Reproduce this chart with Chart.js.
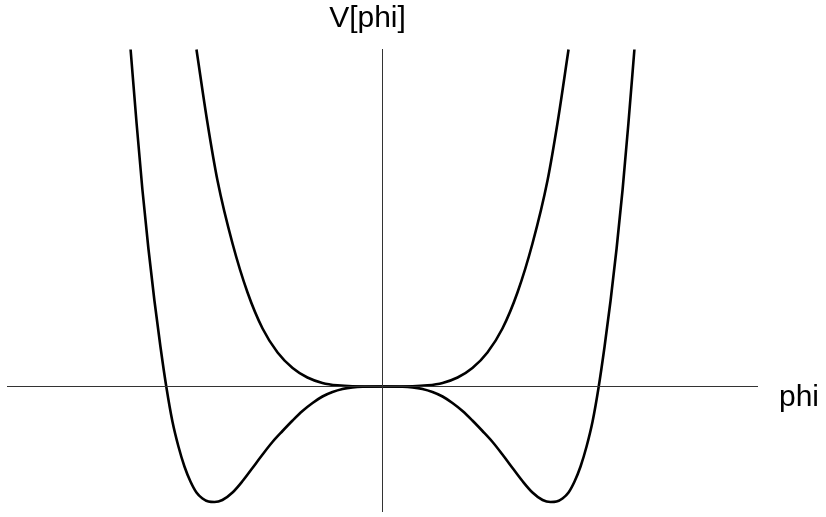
<!DOCTYPE html>
<html>
<head>
<meta charset="utf-8">
<script src="https://cdn.jsdelivr.net/npm/chart.js@4/dist/chart.umd.min.js"></script>
<style>
  html, body { margin: 0; padding: 0; background: #fff; }
  #wrap { width: 826px; height: 517px; }
</style>
</head>
<body>
<div id="wrap"><canvas id="potChart" width="826" height="517"></canvas></div>
<script>
"use strict";

// axis ranges (phi, V[phi])
var phiMin = -1.75, phiMax = 1.75;
var vMin = -1.255, vMax = 3.375;

// double well curve, right half (left half is its mirror)
var phiWellHalf = [0, 0.093, 0.140, 0.186, 0.233, 0.280, 0.326, 0.373, 0.419, 0.466,
                   0.513, 0.559, 0.606, 0.652, 0.699, 0.746, 0.783, 0.811, 0.839, 0.867,
                   0.895, 0.923, 0.951, 0.979, 1.007, 1.035, 1.063, 1.091, 1.119, 1.146, 1.174];
var vWellHalf = [0, -0.002, -0.009, -0.025, -0.055, -0.10, -0.165, -0.245, -0.34, -0.445,
                 -0.555, -0.68, -0.815, -0.945, -1.06, -1.135, -1.155, -1.15, -1.12, -1.06,
                 -0.95, -0.80, -0.60, -0.35, -0.01, 0.40, 0.86, 1.38, 1.97, 2.63, 3.37];

// single well curve, right half
var phiSingleHalf = [0, 0.140, 0.210, 0.280, 0.350, 0.419, 0.489, 0.559, 0.629, 0.699,
                     0.769, 0.816, 0.867];
var vSingleHalf = [0, 0.002, 0.011, 0.036, 0.09, 0.185, 0.34, 0.58, 0.94, 1.43,
                   2.06, 2.64, 3.37];

var xLabel = "phi";
var yLabel = "V[phi]";

// both halves, left side mirrored
function symPairs(xs, ys) {
    var out = [];
    for (var i = xs.length - 1; i > 0; i--) out.push({ x: -xs[i], y: ys[i] });
    for (var j = 0; j < xs.length; j++) out.push({ x: xs[j], y: ys[j] });
    return out;
}

var curveStyle = {
    borderColor: "#000",
    borderWidth: 2.6,
    pointRadius: 0,
    showLine: true,
    fill: false,
    cubicInterpolationMode: "monotone"
};
var axisStyle = {
    borderColor: "#333",
    borderWidth: 1,
    pointRadius: 0,
    showLine: true,
    fill: false,
    tension: 0
};

// axis labels drawn next to the axes
var axisLabels = {
    id: "axisLabels",
    afterDraw: function (chart) {
        var ctx = chart.ctx;
        var sx = chart.scales.x, sy = chart.scales.y;
        ctx.save();
        ctx.fillStyle = "#000";
        ctx.font = '30px "Liberation Sans", Arial, sans-serif';
        ctx.textAlign = "center";
        ctx.textBaseline = "alphabetic";
        ctx.fillText(yLabel, sx.getPixelForValue(0) - 15, sy.top - 22);
        ctx.textAlign = "left";
        ctx.fillText(xLabel, sx.right + 21, sy.getPixelForValue(0) + 19);
        ctx.restore();
    }
};

var ctx = document.getElementById("potChart");
var myChart = new Chart(ctx, {
    type: "scatter",
    data: {
        datasets: [
            Object.assign({ data: [{ x: phiMin, y: 0 }, { x: phiMax, y: 0 }] }, axisStyle),
            Object.assign({ data: [{ x: 0, y: vMin }, { x: 0, y: vMax }] }, axisStyle),
            Object.assign({ data: symPairs(phiWellHalf, vWellHalf) }, curveStyle),
            Object.assign({ data: symPairs(phiSingleHalf, vSingleHalf) }, curveStyle)
        ]
    },
    options: {
        responsive: false,
        animation: false,
        layout: { padding: { left: 7, right: 68, top: 49, bottom: 5 } },
        scales: {
            x: { type: "linear", min: phiMin, max: phiMax, display: false },
            y: { type: "linear", min: vMin, max: vMax, display: false }
        },
        plugins: {
            legend: { display: false },
            tooltip: { enabled: false }
        }
    },
    plugins: [axisLabels]
});
</script>
</body>
</html>
